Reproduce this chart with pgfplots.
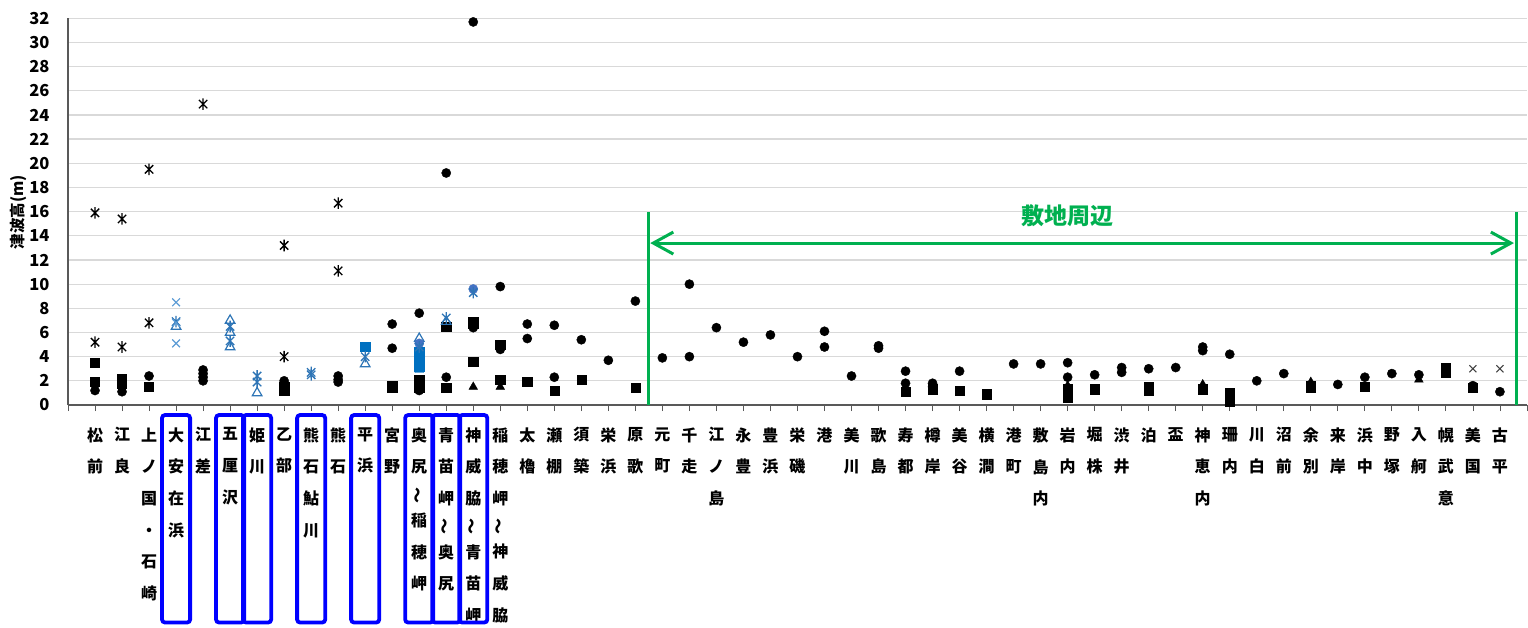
\documentclass[border=0pt]{standalone}
\usepackage{fontspec}
\setmainfont{Noto Sans CJK JP}
\usepackage{pgfplots}
\pgfplotsset{compat=1.18}
\usetikzlibrary{arrows.meta}

\definecolor{grn}{RGB}{0,176,80}
\definecolor{bsq}{RGB}{0,112,192}
\definecolor{bxx}{RGB}{91,155,213}
\definecolor{bast}{RGB}{46,117,182}
\definecolor{bcir}{RGB}{68,114,196}
\definecolor{gridc}{RGB}{217,217,217}
\definecolor{axc}{RGB}{89,89,89}
\definecolor{gx}{RGB}{64,64,64}

\newcommand\wv{\rotatebox[origin=c]{90}{～}}

% asterisk as drawn by the spreadsheet: an x with a vertical stroke
\pgfdeclareplotmark{xast}{%
  \pgfpathmoveto{\pgfqpoint{0pt}{\pgfplotmarksize}}%
  \pgfpathlineto{\pgfqpoint{0pt}{-\pgfplotmarksize}}%
  \pgfpathmoveto{\pgfqpoint{-.72\pgfplotmarksize}{.72\pgfplotmarksize}}%
  \pgfpathlineto{\pgfqpoint{.72\pgfplotmarksize}{-.72\pgfplotmarksize}}%
  \pgfpathmoveto{\pgfqpoint{-.72\pgfplotmarksize}{-.72\pgfplotmarksize}}%
  \pgfpathlineto{\pgfqpoint{.72\pgfplotmarksize}{.72\pgfplotmarksize}}%
  \pgfusepathqstroke}

\begin{document}
\begin{tikzpicture}[x=1pt,y=1pt]
\begin{axis}[
  name=ax,
  scale only axis, width=1459pt, height=386.7pt,
  xmin=0, xmax=54, ymin=0, ymax=32,
  clip=false,
  axis lines=left, axis line style={-, axc, line width=1.2pt},
  ytick={0,2,...,32},
  ymajorgrids, grid style={gridc, line width=1.3pt},
  ytick style={draw=none},
  yticklabel style={font=\bfseries\fontsize{16.5}{16.5}\selectfont, xshift=-9pt},
  /pgf/number format/assume math mode=true,
  xtick={0,...,54},
  tick align=outside, major tick length=6pt,
  xtick style={axc, line width=0.8pt},
  xticklabels={,{松\\前},{江\\良},{上\\ノ\\国\\・\\石\\崎},{大\\安\\在\\浜},{江\\差},{五\\厘\\沢},{姫\\川},{乙\\部},{熊\\石\\鮎\\川},{熊\\石},{平\\浜},{宮\\野},{奥\\尻\\[-5pt]\wv\\[-5pt]稲\\穂\\岬},{青\\苗\\岬\\[-5pt]\wv\\[-5pt]奥\\尻},{神\\威\\脇\\[-5pt]\wv\\[-5pt]青\\苗\\岬},{稲\\穂\\岬\\[-5pt]\wv\\[-5pt]神\\威\\脇},{太\\櫓},{瀬\\棚},{須\\築},{栄\\浜},{原\\歌},{元\\町},{千\\走},{江\\ノ\\島},{永\\豊},{豊\\浜},{栄\\磯},{港},{美\\川},{歌\\島},{寿\\都},{樽\\岸},{美\\谷},{横\\澗},{港\\町},{敷\\島\\内},{岩\\内},{堀\\株},{渋\\井},{泊},{盃},{神\\恵\\内},{珊\\内},{川\\白},{沼\\前},{余\\別},{来\\岸},{浜\\中},{野\\塚},{入\\舸},{幌\\武\\意},{美\\国},{古\\平},},
  xticklabel style={font=\bfseries\fontsize{16}{31.7}\selectfont, align=center, anchor=north, yshift=-13pt},
]

% black circles
\addplot[only marks, mark=*, mark size=4.6pt, black] coordinates {
(1,1.2) (2,1.1) (2,1.5) (3,2.4) (5,2.0) (5,2.3) (5,2.6) (5,2.9)
(8,2.0) (10,2.4) (10,2.1) (10,1.9) (12,6.7) (12,4.7) (13,7.6) (13,1.2)
(14,19.2) (14,2.3) (15,31.7) (15,6.4) (16,9.8) (16,4.6) (17,6.7) (17,5.5)
(18,6.6) (18,2.3) (19,5.4) (20,3.7) (21,8.6) (22,3.9) (23,10.0) (23,4.0)
(24,6.4) (25,5.2) (26,5.8) (27,4.0) (28,6.1) (28,4.8) (29,2.4) (30,4.9)
(30,4.7) (31,2.8) (31,1.8) (32,1.8) (32,1.5) (33,2.8) (35,3.4) (36,3.4)
(37,3.5) (37,2.3) (38,2.5) (39,3.1) (39,2.7) (40,3.0) (41,3.1) (42,4.8)
(42,4.5) (43,4.2) (44,2.0) (45,2.6) (47,1.7) (48,2.3) (49,2.6) (50,2.5)
(52,1.6) (53,1.1)
};
% black squares
\addplot[only marks, mark=square*, mark size=4.6pt, black] coordinates {
(1,3.5) (1,1.9) (2,2.2) (2,1.8) (3,1.5) (8,1.5) (8,1.2) (12,1.6) (12,1.4)
(13,2.1) (13,1.4) (14,6.5) (14,1.4) (15,6.9) (15,6.7) (15,3.6) (16,5.0)
(16,2.1) (17,1.9) (18,1.2) (19,2.1) (21,1.4) (31,1.1) (32,1.3) (33,1.2)
(34,0.9) (37,1.3) (37,1.0) (37,0.6) (38,1.3) (40,1.5) (40,1.2) (42,1.3)
(43,1.0) (43,0.6) (43,0.3) (46,1.6) (46,1.4) (48,1.5) (51,3.1) (51,2.7)
(52,1.4)
};
% black triangles
\addplot[only marks, mark=triangle*, mark size=5pt, black] coordinates {
(15,1.5) (16,1.5) (37,1.6) (42,1.7) (46,1.9) (50,2.1)
};
% black asterisks
\addplot[only marks, mark=xast, mark size=5.8pt, black, line width=1.3pt] coordinates {
(1,15.9) (1,5.2) (2,15.4) (2,4.8) (3,19.5) (3,6.8) (5,24.9) (8,13.2) (8,4.0)
(10,16.7) (10,11.1)
};
% blue squares
\addplot[only marks, mark=square*, mark size=4.6pt, bsq] coordinates {
(11,4.8) (13,4.4) (13,4.1) (13,3.8) (13,3.5) (13,3.2)
};
% blue filled triangle
\addplot[only marks, mark=triangle*, mark size=5pt, bsq] coordinates {
(13,2.9)
};
% blue open triangles
\addplot[only marks, mark=triangle, mark size=5.5pt, bast, line width=1.2pt] coordinates {
(4,6.5) (6,7.0) (6,6.0) (6,4.8) (7,1.0) (11,3.4) (13,5.5) (14,6.9)
};
% blue circles
\addplot[only marks, mark=*, mark size=4.6pt, bcir] coordinates {
(13,5.1) (15,9.6)
};
% blue asterisks
\addplot[only marks, mark=xast, mark size=5.8pt, bast, line width=1.3pt] coordinates {
(4,6.9) (6,6.5) (6,5.3) (7,2.4) (7,1.9) (9,2.7) (9,2.5) (11,4.0) (13,4.8)
(14,7.2) (15,9.3)
};
% blue crosses
\addplot[only marks, mark=x, mark size=5.5pt, bxx, line width=1.2pt] coordinates {
(4,8.5) (4,5.1) (4,6.8)
};
% grey crosses
\addplot[only marks, mark=x, mark size=5pt, gx, line width=1pt] coordinates {
(52,3.0) (53,3.0)
};

% site surroundings
\draw[grn, line width=3pt] (axis cs:21.47,0) -- (axis cs:21.47,16);
\draw[grn, line width=3pt] (axis cs:53.6,0) -- (axis cs:53.6,16);
\draw[grn, line width=3pt, {Straight Barb[length=20pt,width=22pt]}-{Straight Barb[length=20pt,width=22pt]}]
  (axis cs:21.55,13.4) -- (axis cs:53.52,13.4);
\node[grn, font=\bfseries\fontsize{23}{23}\selectfont] at (axis cs:37,15.7) {敷地周辺};

% boxed labels
\pgfplotsinvokeforeach{4,6,7,9,11,13,14,15}{
  \draw[blue, line width=3.8pt, rounded corners=3pt]
    (axis cs:#1-0.52,-0.83) rectangle (axis cs:#1+0.52,-18.0);
}
\end{axis}

\node[rotate=90, font=\bfseries\fontsize{15.5}{15.5}\selectfont]
  at ([shift={(-50,193)}]ax.south west) {津波高(m)};

\pgfresetboundingbox
\path[use as bounding box] ([shift={(-68,-222)}]ax.south west) rectangle ([shift={(1460,405)}]ax.south west);
\end{tikzpicture}
\end{document}
